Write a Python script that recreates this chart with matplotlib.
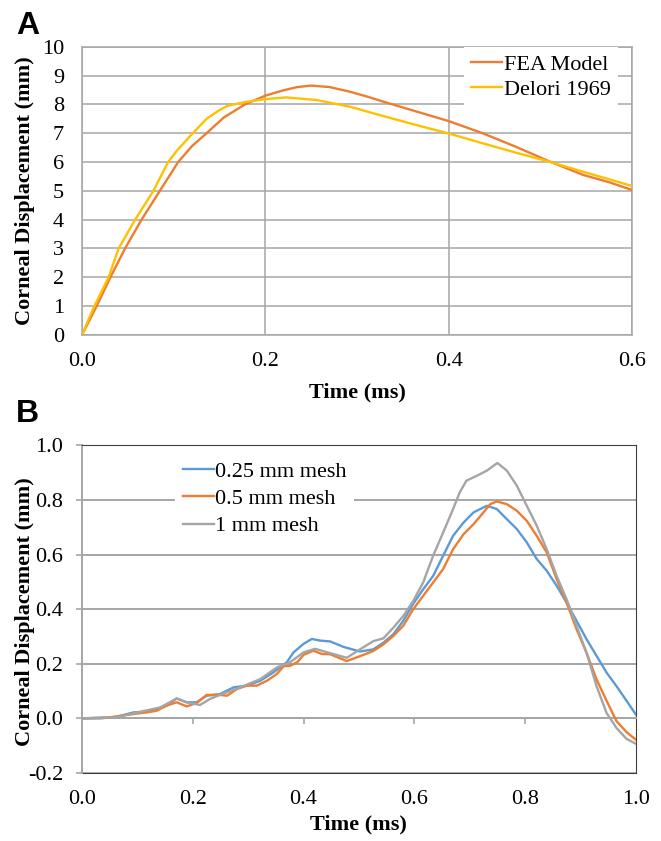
import matplotlib
matplotlib.use("Agg")
import matplotlib.pyplot as plt

plt.rcParams["font.family"] = ["Liberation Serif", "DejaVu Serif"]
plt.rcParams["axes.unicode_minus"] = False

# panel A: corneal displacement vs time
fea_t = [0, 0.016, 0.031, 0.047, 0.065, 0.085, 0.105, 0.12, 0.136, 0.155, 0.178, 0.2,
         0.219, 0.235, 0.25, 0.27, 0.292, 0.31, 0.328, 0.365, 0.4, 0.437, 0.474, 0.51,
         0.547, 0.575, 0.6]
fea_y = [0, 1, 2, 3, 4, 5, 6, 6.55, 7, 7.55, 8, 8.3, 8.48, 8.6, 8.65, 8.6, 8.44, 8.28,
         8.1, 7.75, 7.42, 7.0, 6.52, 6.02, 5.55, 5.3, 5.03]
delori_t = [0, 0.012, 0.029, 0.04, 0.058, 0.078, 0.094, 0.105, 0.121, 0.136, 0.15, 0.159,
            0.178, 0.2, 0.223, 0.256, 0.292, 0.328, 0.365, 0.4, 0.437, 0.474, 0.51, 0.547, 0.6]
delori_y = [0, 0.9, 2, 3, 4, 5, 6, 6.45, 7, 7.5, 7.8, 7.95, 8.08, 8.18, 8.24, 8.15, 7.92,
            7.6, 7.28, 6.99, 6.65, 6.32, 6.01, 5.66, 5.17]

# panel B: mesh convergence
m025_t = [0, 0.033, 0.063, 0.093, 0.111, 0.135, 0.153, 0.171, 0.189, 0.207, 0.225, 0.249,
          0.274, 0.298, 0.322, 0.346, 0.37, 0.382, 0.4, 0.415, 0.43, 0.448, 0.472, 0.502,
          0.526, 0.544, 0.562, 0.58, 0.598, 0.616, 0.634, 0.652, 0.67, 0.689, 0.707, 0.731,
          0.749, 0.767, 0.785, 0.803, 0.821, 0.839, 0.857, 0.875, 0.893, 0.911, 0.929, 0.947,
          0.965, 0.983, 1.0]
m025_y = [0, 0, 0.006, 0.022, 0.024, 0.034, 0.047, 0.073, 0.059, 0.059, 0.083, 0.089,
          0.114, 0.12, 0.138, 0.169, 0.206, 0.242, 0.273, 0.291, 0.285, 0.282, 0.262, 0.245,
          0.253, 0.277, 0.308, 0.357, 0.42, 0.473, 0.522, 0.596, 0.669, 0.718, 0.755, 0.779,
          0.767, 0.73, 0.694, 0.645, 0.584, 0.541, 0.486, 0.424, 0.357, 0.29, 0.229, 0.168,
          0.118, 0.065, 0.014]
m05_t = [0, 0.051, 0.093, 0.117, 0.135, 0.153, 0.171, 0.189, 0.207, 0.225, 0.249, 0.262,
         0.28, 0.298, 0.316, 0.334, 0.352, 0.364, 0.376, 0.389, 0.4, 0.418, 0.433, 0.448,
         0.478, 0.502, 0.526, 0.544, 0.562, 0.58, 0.598, 0.616, 0.634, 0.652, 0.67, 0.689,
         0.707, 0.725, 0.737, 0.749, 0.767, 0.785, 0.803, 0.821, 0.839, 0.857, 0.875, 0.893,
         0.911, 0.929, 0.947, 0.965, 0.983, 1.0]
m05_y = [0, 0.004, 0.016, 0.022, 0.028, 0.047, 0.059, 0.044, 0.056, 0.086, 0.086, 0.083,
         0.108, 0.12, 0.12, 0.138, 0.163, 0.191, 0.193, 0.206, 0.233, 0.248, 0.236, 0.235,
         0.21, 0.228, 0.247, 0.271, 0.302, 0.339, 0.4, 0.449, 0.498, 0.547, 0.62, 0.675,
         0.712, 0.755, 0.785, 0.795, 0.785, 0.761, 0.724, 0.669, 0.608, 0.51, 0.424, 0.326,
         0.24, 0.143, 0.065, -0.01, -0.05, -0.078]
m1_t = [0, 0.063, 0.105, 0.141, 0.153, 0.171, 0.189, 0.213, 0.231, 0.249, 0.286, 0.322,
        0.352, 0.376, 0.4, 0.421, 0.443, 0.478, 0.502, 0.526, 0.544, 0.562, 0.58, 0.598,
        0.616, 0.634, 0.652, 0.67, 0.682, 0.694, 0.713, 0.731, 0.75, 0.767, 0.785, 0.803,
        0.821, 0.839, 0.857, 0.875, 0.893, 0.911, 0.929, 0.947, 0.965, 0.983, 1.0]
m1_y = [0, 0.004, 0.024, 0.04, 0.053, 0.073, 0.059, 0.049, 0.071, 0.086, 0.114, 0.144,
        0.187, 0.206, 0.242, 0.255, 0.242, 0.222, 0.253, 0.283, 0.293, 0.332, 0.375, 0.43,
        0.498, 0.596, 0.681, 0.767, 0.828, 0.871, 0.889, 0.908, 0.936, 0.908, 0.853, 0.779,
        0.706, 0.62, 0.522, 0.436, 0.338, 0.24, 0.118, 0.02, -0.035, -0.075, -0.093]

FS = 16
GRID = "#A6A6A6"
fig = plt.figure(figsize=(6.61, 8.41), dpi=100)

# ---- panel A
ax = fig.add_axes([0.124, 0.6017, 0.832, 0.3428])
ax.plot(fea_t, fea_y, color="#ED7D31", lw=1.7, label="FEA Model", zorder=3)
ax.plot(delori_t, delori_y, color="#FFC000", lw=1.7, label="Delori 1969", zorder=3)
ax.set_xlim(0, 0.6)
ax.set_ylim(0, 10)
ax.set_xticks([0, 0.2, 0.4, 0.6])
ax.set_xticklabels(["0.0", "0.2", "0.4", "0.6"])
ax.set_yticks(range(0, 11))
ax.grid(True, color=GRID, lw=1.1)
ax.set_axisbelow(True)
for s in ax.spines.values():
    s.set_color(GRID)
    s.set_linewidth(1.1)
ax.tick_params(length=0, labelsize=FS)
ax.tick_params(axis="y", pad=13)
ax.tick_params(axis="x", pad=12)
ax.set_xlabel("Time (ms)", fontsize=FS, fontweight="bold")
ax.set_ylabel("Corneal Displacement (mm)", fontsize=FS, fontweight="bold")
ax.xaxis.set_label_coords(0.5, -0.165)
ax.yaxis.set_label_coords(-0.085, 0.5)
leg = ax.legend(loc="upper right", bbox_to_anchor=(0.975, 1.0), borderaxespad=0,
                fontsize=FS, frameon=True, fancybox=False, handlelength=1.4,
                handletextpad=0.05, labelspacing=0.2, borderpad=0.35)
leg.get_frame().set_edgecolor("none")
leg.get_frame().set_facecolor("white")
leg.get_frame().set_alpha(1)

# ---- panel B
bx = fig.add_axes([0.124, 0.0809, 0.838, 0.3894])
bx.plot(m025_t, m025_y, color="#5B9BD5", lw=1.7, label="0.25 mm mesh", zorder=3)
bx.plot(m05_t, m05_y, color="#ED7D31", lw=1.7, label="0.5 mm mesh", zorder=3)
bx.plot(m1_t, m1_y, color="#A5A5A5", lw=1.7, label="1 mm mesh", zorder=3)
bx.set_xlim(0, 1.0)
bx.set_ylim(-0.2, 1.0)
bx.set_yticks([-0.2, 0, 0.2, 0.4, 0.6, 0.8, 1.0])
bx.set_yticklabels(["-0.2", "0.0", "0.2", "0.4", "0.6", "0.8", "1.0"])
bx.yaxis.grid(True, color=GRID, lw=1.4)
bx.set_axisbelow(True)
bx.spines["top"].set_color("#404040")
bx.spines["right"].set_color("#404040")
bx.spines["left"].set_color(GRID)
bx.spines["left"].set_linewidth(1.4)
bx.spines["bottom"].set_position(("data", 0))
bx.spines["bottom"].set_color(GRID)
bx.spines["bottom"].set_linewidth(1.4)
bx.set_xticks([0.2, 0.4, 0.6, 0.8])
bx.tick_params(axis="x", direction="out", length=4, width=1.2, color=GRID, labelbottom=False)
bx.tick_params(axis="y", direction="out", length=4.5, width=1.2, color=GRID,
               labelsize=FS, pad=9)

sec = bx.secondary_xaxis(0.0)
sec.set_xticks([0, 0.2, 0.4, 0.6, 0.8, 1.0])
sec.set_xticklabels(["0.0", "0.2", "0.4", "0.6", "0.8", "1.0"])
sec.tick_params(length=0, labelsize=FS, pad=12)
sec.spines["bottom"].set_color("#404040")
sec.set_xlabel("Time (ms)", fontsize=FS, fontweight="bold")
bx.set_ylabel("Corneal Displacement (mm)", fontsize=FS, fontweight="bold")
bx.yaxis.set_label_coords(-0.085, 0.493)
leg2 = bx.legend(loc="upper left", bbox_to_anchor=(0.168, 0.975), borderaxespad=0,
                 fontsize=FS, frameon=True, fancybox=False, handlelength=1.4,
                 handletextpad=0.05, labelspacing=0.3, borderpad=0.35)
leg2.get_frame().set_edgecolor("none")
leg2.get_frame().set_facecolor("white")
leg2.get_frame().set_alpha(1)

fig.text(0.0416, 0.969, "A", fontsize=23, fontweight="bold", family="Liberation Sans",
         ha="center", va="center")
fig.text(0.042, 0.508, "B", fontsize=23, fontweight="bold", family="Liberation Sans",
         ha="center", va="center")

fig.savefig("out.png", dpi=100)
